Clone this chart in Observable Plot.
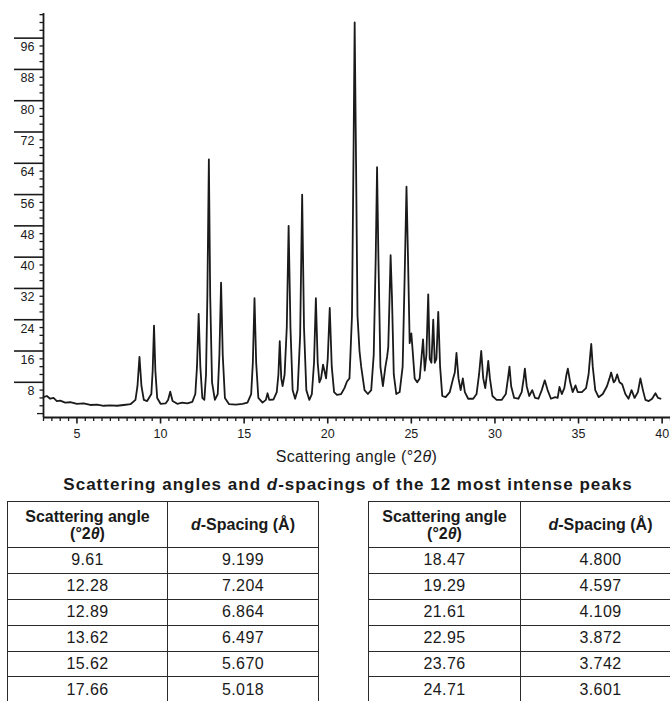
<!DOCTYPE html>
<html><head><meta charset="utf-8">
<script src="https://cdn.jsdelivr.net/npm/d3@7"></script>
<script src="https://cdn.jsdelivr.net/npm/@observablehq/plot@0.6"></script>
<style>
html,body{margin:0;padding:0;}
body{width:670px;height:701px;overflow:hidden;background:#fff;font-family:"Liberation Sans",Arial,Helvetica,sans-serif;color:#1a1a1a;}
#chart svg{display:block;}
#xtitle{margin-top:3px;padding-left:43px;text-align:center;font-size:16px;letter-spacing:0.3px;line-height:22px;white-space:nowrap;}
#ttitle{margin-top:6px;padding-left:26px;text-align:center;font-size:17px;letter-spacing:1px;font-weight:bold;line-height:21px;white-space:nowrap;}
#tables{position:relative;margin-top:6px;height:220px;}
table{position:absolute;top:0;border-collapse:collapse;table-layout:fixed;}
td,th{border:1.5px solid #2a2a2a;padding:0;text-align:center;font-size:16px;}
th{font-weight:bold;line-height:17px;height:45px;}
td{height:24.9px;line-height:20px;letter-spacing:0.4px;}
</style>
</head><body>
<div id="chart"></div>
<div id="xtitle">Scattering angle (°2<i>θ</i>)</div>
<div id="ttitle">Scattering angles and <i>d</i>-spacings of the 12 most intense peaks</div>
<div id="tables"></div>
<script>
// ---- data ----
const xDomain = [3, 40.5];
const yDomain = [-1, 102.3];
const xTickLabels = [5, 10, 15, 20, 25, 30, 35, 40];
const yTickLabels = [8, 16, 24, 32, 40, 48, 56, 64, 72, 80, 88, 96];
const xLabelText = "Scattering angle (°2θ)";
// diffraction profile: [angle °2θ, intensity]
const profile = [
  [3.0,4.2],[3.2,4.5],[3.4,3.8],[3.6,4.0],[3.8,3.2],[4.0,3.3],[4.3,2.8],[4.6,2.9],[5.0,2.5],[5.4,2.6],
  [5.8,2.2],[6.2,2.3],[6.6,2.0],[7.0,2.1],[7.4,2.0],[7.8,2.2],[8.2,2.4],[8.5,3.5],[8.62,7],[8.74,14.5],
  [8.86,7],[9.0,3.5],[9.2,3.2],[9.45,5],[9.53,11],[9.61,22.5],[9.69,11],[9.8,4],[10.0,2.5],[10.3,2.6],
  [10.45,3.5],[10.58,5.6],[10.72,3.2],[11.0,2.5],[11.3,2.8],[11.6,2.6],[11.9,3.0],[12.08,5],[12.18,12],[12.28,25.5],
  [12.38,12],[12.5,4],[12.62,3.5],[12.72,10],[12.8,30],[12.89,65],[12.97,30],[13.08,8],[13.25,3.5],[13.42,5],
  [13.52,15],[13.62,33.5],[13.72,15],[13.85,4],[14.1,2.4],[14.5,2.3],[14.9,2.5],[15.2,2.8],[15.42,5],[15.52,13],
  [15.62,29.5],[15.72,13],[15.85,4],[16.1,2.8],[16.3,3.5],[16.4,5.2],[16.5,3.5],[16.75,3.6],[16.95,5.5],[17.05,10],
  [17.13,18.5],[17.22,9],[17.3,7],[17.42,10],[17.55,22],[17.66,48],[17.77,22],[17.9,6],[18.05,3.8],[18.2,6],
  [18.35,20],[18.47,56],[18.58,22],[18.72,6],[18.9,3.5],[19.05,5],[19.18,13],[19.29,29.5],[19.4,13],[19.5,8],
  [19.6,9],[19.72,12.5],[19.8,11],[19.9,9],[20.0,14],[20.12,27],[20.24,12],[20.38,5.5],[20.55,4.8],[20.8,5],
  [21.0,6.5],[21.15,8.2],[21.3,9],[21.45,25],[21.55,70],[21.61,100],[21.68,70],[21.78,25],[21.9,16],[22.0,12],
  [22.2,6],[22.4,5],[22.6,6],[22.75,15],[22.87,40],[22.95,63],[23.03,40],[23.15,12],[23.3,7],[23.45,12],
  [23.55,14.5],[23.62,17],[23.7,30],[23.76,40.5],[23.84,30],[23.95,10],[24.1,5],[24.3,5.5],[24.48,12],[24.6,35],
  [24.71,58],[24.8,40],[24.9,18],[25.0,20.5],[25.08,16],[25.2,9],[25.35,8],[25.5,9],[25.6,14],[25.7,19],
  [25.8,11],[25.9,15],[26.01,30.5],[26.1,14],[26.2,13],[26.31,24],[26.4,13],[26.5,14],[26.61,26],[26.72,12],
  [26.85,4.5],[27.05,4.2],[27.3,5.5],[27.5,9],[27.6,10.5],[27.7,15.5],[27.82,9],[27.95,6],[28.08,9],[28.2,5.5],
  [28.4,3.8],[28.7,3.8],[28.9,5],[29.05,10],[29.18,16],[29.3,9],[29.42,6.5],[29.52,10],[29.6,13.5],[29.7,9],
  [29.85,4.5],[30.1,3.5],[30.4,3.5],[30.65,5],[30.78,9],[30.87,12],[30.97,7],[31.15,4],[31.4,3.8],[31.6,5.5],
  [31.72,9],[31.79,11.5],[31.9,7],[32.05,4.5],[32.23,6],[32.4,4],[32.6,3.8],[32.8,6],[32.98,8.5],[33.15,6],
  [33.35,3.8],[33.6,4.2],[33.75,4],[33.86,6.8],[34.0,5],[34.15,6.5],[34.28,10],[34.36,11.5],[34.5,8],[34.65,5.5],
  [34.82,7.2],[34.95,5.5],[35.2,5.5],[35.45,6.5],[35.6,10],[35.7,15],[35.76,17.8],[35.85,12],[36.0,6],[36.2,4.2],
  [36.45,5],[36.7,7],[36.85,9],[36.95,10.5],[37.1,8],[37.2,8.5],[37.31,10],[37.45,8],[37.61,7.5],[37.8,5],
  [37.99,3.8],[38.17,6],[38.35,4],[38.55,5.5],[38.7,9],[38.85,6],[39.0,3.5],[39.2,3.2],[39.4,3.8],[39.6,5.2],
  [39.75,4],[39.9,3.8]
];
// table of the 12 most intense peaks
const peakAngles = ["9.61","12.28","12.89","13.62","15.62","17.66","18.47","19.29","21.61","22.95","23.76","24.71"];
const dSpacings  = ["9.199","7.204","6.864","6.497","5.670","5.018","4.800","4.597","4.109","3.872","3.742","3.601"];

// ---- chart ----
const yMinor = d3.range(0, 103, 2).filter(v => v % 8 !== 0);
const xMinor = d3.range(3, 40.6, 0.5).filter(v => v % 5 !== 0);
const chart = Plot.plot({
  width: 670, height: 443,
  marginTop: 13, marginLeft: 43, marginRight: 0, marginBottom: 26,
  style: {fontFamily: '"Liberation Sans", Arial, Helvetica, sans-serif', fontSize: "12px", color: "#1a1a1a", background: "#fff"},
  x: {domain: xDomain},
  y: {domain: yDomain},
  marks: [
    Plot.axisY({ticks: yMinor, tickSize: 3.5, tickFormat: () => "", label: null, strokeWidth: 1.3}),
    Plot.axisY({ticks: [0], tickSize: 6, tickFormat: () => "", label: null, strokeWidth: 1.3}),
    Plot.axisY({ticks: yTickLabels, tickSize: 29, tickFormat: () => "", label: null, strokeWidth: 1.6}),
    Plot.axisY({ticks: yTickLabels, tickSize: 0, tickPadding: 9, dy: 9, label: null, fontSize: 12.5}),
    Plot.axisX({ticks: xMinor, tickSize: 4, tickFormat: () => "", label: null, strokeWidth: 1.3}),
    Plot.axisX({ticks: xTickLabels, tickSize: 6.5, tickPadding: 5, label: null, fontSize: 12.5, strokeWidth: 1.6}),
    Plot.ruleX([xDomain[0]], {strokeWidth: 1.8}),
    Plot.ruleY([yDomain[0]], {strokeWidth: 1.8}),
    Plot.line(profile, {x: d => d[0], y: d => d[1], stroke: "#1a1a1a", strokeWidth: 1.8, strokeLinejoin: "round"})
  ]
});
document.getElementById("chart").append(chart);

// ---- tables ----
function makeTable(left, widths, rows) {
  const t = document.createElement("table");
  t.style.left = left + "px";
  t.style.width = (widths[0] + widths[1]) + "px";
  const cg = document.createElement("colgroup");
  widths.forEach(w => { const c = document.createElement("col"); c.style.width = w + "px"; cg.append(c); });
  t.append(cg);
  const h = document.createElement("tr");
  h.innerHTML = '<th>Scattering angle<br>(°2<i>θ</i>)</th><th><i>d</i>-Spacing (Å)</th>';
  t.append(h);
  rows.forEach(i => {
    const r = document.createElement("tr");
    r.innerHTML = `<td>${peakAngles[i]}</td><td>${dSpacings[i]}</td>`;
    t.append(r);
  });
  return t;
}
const tb = document.getElementById("tables");
tb.append(makeTable(7, [160, 151], [0,1,2,3,4,5]));
tb.append(makeTable(368, [152, 160], [6,7,8,9,10,11]));
</script>
</body></html>
